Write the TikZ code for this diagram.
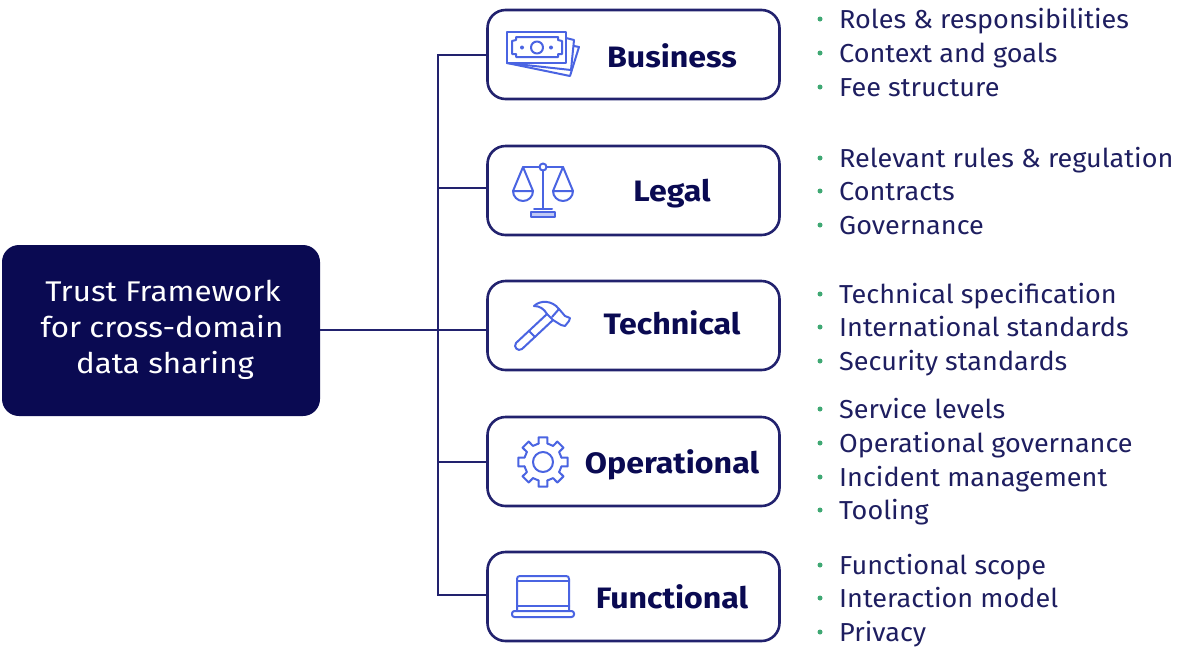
\documentclass[tikz,border=0pt]{standalone}
\usepackage{fontspec}
\setmainfont{Fira Sans}
\newfontfamily\itemfont[FakeStretch=1.04]{Fira Sans}
\newfontfamily\mainfont[FakeStretch=1.1]{Fira Sans}
\newfontfamily\catfont[FakeStretch=1.09,BoldFont={Fira Sans Bold}]{Fira Sans}
\definecolor{navy}{HTML}{0A0A52}
\definecolor{edge}{HTML}{22226E}
\definecolor{iconblue}{HTML}{4A64E2}
\definecolor{dotgreen}{HTML}{3FA873}
\tikzset{
  x=1pt,y=-1pt,
  mainbox/.style={draw=none,fill=navy,rounded corners=17pt,minimum width=318pt,minimum height=171pt,inner sep=0pt},
  catbox/.style={draw=edge,line width=2.6pt,fill=white,rounded corners=18pt,minimum width=292pt,minimum height=89pt,inner sep=0pt},
  catlabel/.style={font=\catfont\fontsize{29.5}{30}\selectfont\bfseries,text=navy,anchor=center,inner sep=0pt,text height=20pt,text depth=6pt},
  itemlabel/.style={font=\itemfont\fontsize{26}{30}\selectfont,text=navy!92!white,anchor=base west,inner sep=0pt},
  bulletdot/.style={circle,fill=dotgreen,minimum size=5pt,inner sep=0pt},
  mainlabel/.style={font=\mainfont\fontsize{28.5}{30}\selectfont,text=white,inner sep=0pt,anchor=base},
  wire/.style={draw=edge,line width=2.6pt},
  icon/.style={draw=iconblue,line width=2pt,line join=round,line cap=round},
}
\newcommand{\itemrow}[3]{%
  \node[bulletdot] (d#1) at (820,#2) {};
  \node[itemlabel] (t#1) at (839,#2+9) {#3};
}
\begin{document}
\begin{tikzpicture}
\useasboundingbox (0,0) rectangle (1183,649);
\node[mainbox] (main) at (161,330.5) {};
\node[mainlabel] (m1) at (163,301) {Trust Framework};
\node[mainlabel] (m2) at (162,337) {for cross-domain};
\node[mainlabel] (m3) at (165,373) {data sharing};

\node[catbox] (biz) at (633.5,54.5) {};
\node[catbox] (leg) at (633.5,190.5) {};
\node[catbox] (tec) at (633.5,325.5) {};
\node[catbox] (ope) at (633.5,461.5) {};
\node[catbox] (fun) at (633.5,596.5) {};

\coordinate (j1) at (438,55);
\coordinate (j2) at (438,188);
\coordinate (j3) at (438,330);
\coordinate (j4) at (438,462);
\coordinate (j5) at (438,595);
\draw[wire] (main.east |- j3) -- (tec.west |- j3);
\draw[wire] (biz.west |- j1) -- (j1) -- (j5) -- (fun.west |- j5);
\draw[wire] (j2) -- (leg.west |- j2);
\draw[wire] (j4) -- (ope.west |- j4);

\node[catlabel] (lb) at (672,60) {Business};
\node[catlabel] (ll) at (672,194) {Legal};
\node[catlabel] (lt) at (672,327) {Technical};
\node[catlabel] (lo) at (672,466) {Operational};
\node[catlabel] (lf) at (672,601) {Functional};

\itemrow{a}{19}{Roles \& responsibilities}
\itemrow{b}{53}{Context and goals}
\itemrow{c}{87}{Fee structure}
\itemrow{d}{158}{Relevant rules \& regulation}
\itemrow{e}{191}{Contracts}
\itemrow{f}{225}{Governance}
\itemrow{g}{294}{Technical specification}
\itemrow{h}{327}{International standards}
\itemrow{i}{361}{Security standards}
\itemrow{j}{409}{Service levels}
\itemrow{k}{443}{Operational governance}
\itemrow{l}{477}{Incident management}
\itemrow{m}{510}{Tooling}
\itemrow{n}{565}{Functional scope}
\itemrow{o}{598}{Interaction model}
\itemrow{p}{632}{Privacy}

% money
\draw[icon] (507,32) rectangle (566,63);
\draw[icon] (516,37) -- (558,37) -- (558,40) -- (562,41) -- (562,54) -- (558,54) -- (558,57) -- (516,57) -- (516,54) -- (512,54) -- (512,41) -- (516,40) -- cycle;
\draw[icon] (537,47.5) circle (6);
\fill[iconblue] (522,47.5) circle (2) (551,47.5) circle (2);
\draw[icon] (566,38) -- (574,40) -- (571,70) -- (507,63);
\draw[icon] (574,46) -- (579,47) -- (570,76) -- (507,63);

% scales
\draw[icon] (543,171) -- (543,209);
\draw[icon] (543,167) circle (3.5);
\draw[icon] (523,167) -- (539.5,167) (546.5,167) -- (563,167);
\draw[icon] (513,191) -- (523,167) -- (533,191);
\draw[icon] (553,191) -- (563,167) -- (573,191);
\draw[icon] (513,191) -- (533,191) arc (0:-180:10 and -10);
\draw[icon] (553,191) -- (573,191) arc (0:-180:10 and -10);
\draw[icon,fill=iconblue!35] (531,212) rectangle (555,217);
\draw[icon] (534,209) -- (552,209);

% hammer
\draw[icon] (516,343) -- (547,314) -- (553,320) -- (522,349) .. controls (518,352) and (513,347) .. (516,343) -- cycle;
\draw[icon] (529,331) -- (535,337);
\draw[icon] (534,306) .. controls (540,300) and (552,300) .. (559,309) -- (565,316) -- (570,318) -- (569,321) -- (565,326) -- (561,325) -- (553,320);
\draw[icon] (534,306) .. controls (540,306) and (544,309) .. (547,314);
\draw[icon] (559,309) -- (552,317);

% gear
\begin{scope}[shift={(543,462)}]
\draw[icon] (0,0) circle (10);
\foreach \a in {0,45,...,315}{
  \draw[icon] (\a-13:19) -- (\a-10:25) -- (\a+10:25) -- (\a+13:19) -- (\a+32:19);
}
\end{scope}

% laptop
\draw[icon] (517,610) -- (517,579) .. controls (517,577) and (518,576) .. (520,576) -- (566,576) .. controls (568,576) and (569,577) .. (569,579) -- (569,610);
\draw[icon] (517,581) -- (569,581);
\draw[icon] (517,606) -- (569,606);
\draw[icon,rounded corners=2.5pt] (512,611) rectangle (574,617);
\end{tikzpicture}
\end{document}
